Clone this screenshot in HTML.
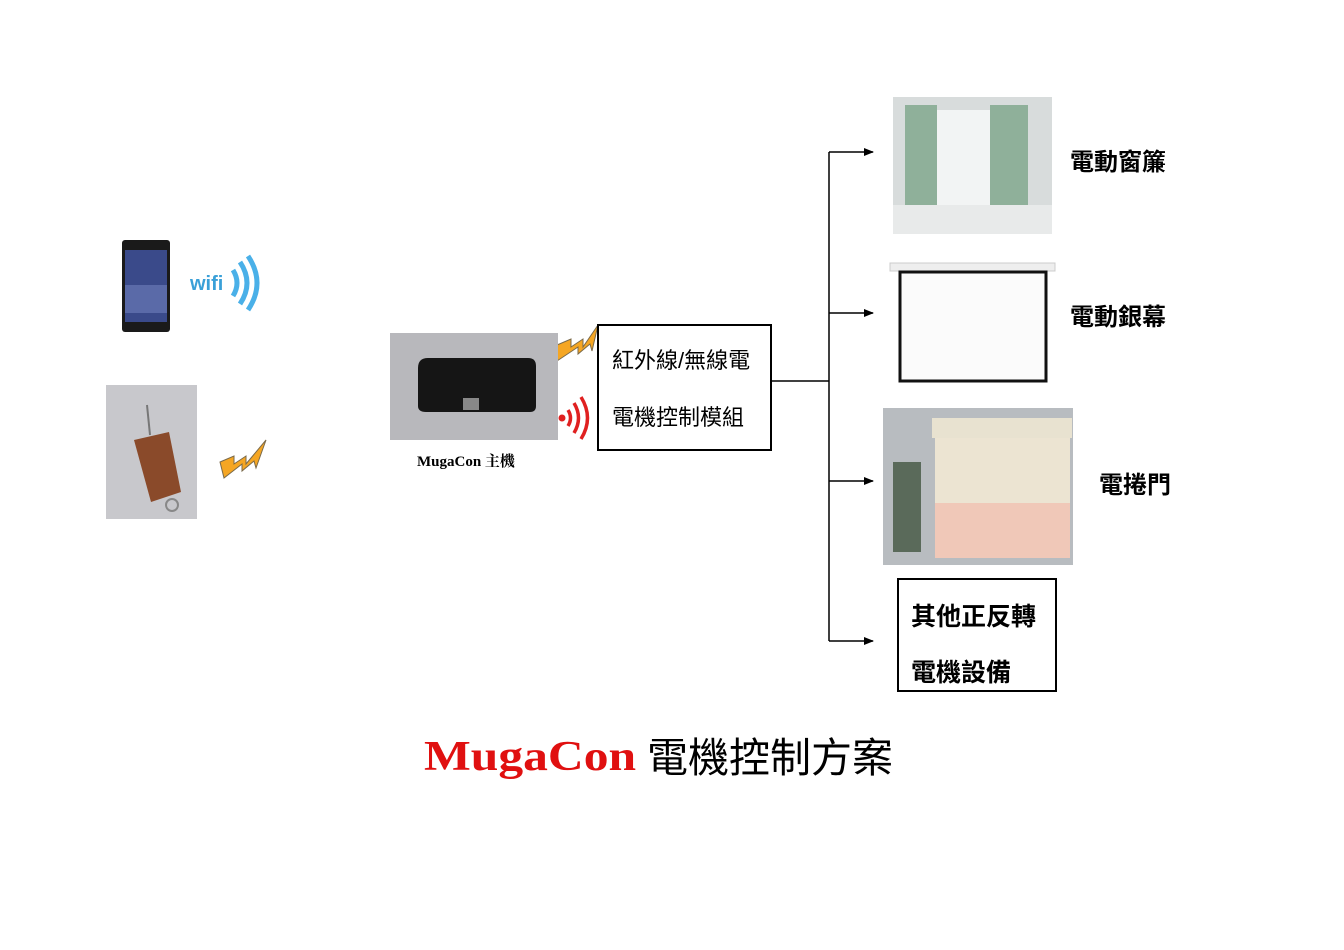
<!DOCTYPE html>
<html><head><meta charset="utf-8"><style>
body{margin:0;width:1344px;height:950px;background:#fff;position:relative;overflow:hidden;font-family:"Liberation Serif","Noto Serif CJK SC",serif}
.t{position:absolute;white-space:nowrap;color:#000}
.b{font-family:"Liberation Sans","Noto Sans CJK TC",sans-serif;font-weight:bold;font-size:24px}
.m{font-family:"Liberation Sans","Noto Sans CJK TC",sans-serif;font-size:22px}
</style></head><body>
<svg width="1344" height="950" style="position:absolute;left:0;top:0">
<defs><marker id="a" markerWidth="10" markerHeight="8" refX="9" refY="4" orient="auto" markerUnits="userSpaceOnUse"><path d="M0,0L10,4L0,8z" fill="#000"/></marker></defs>
<rect x="122" y="240" width="48" height="92" rx="3" fill="#1a1a1a"/>
<rect x="125" y="250" width="42" height="72" fill="#3a4a8a"/>
<rect x="125" y="285" width="42" height="28" fill="#5a6aa8"/>
<text x="190" y="290" font-family="Liberation Sans" font-weight="bold" font-size="20" fill="#3aa0d8">wifi</text>
<path d="M233,270 q8,13 0,26" stroke="#4ab0e8" stroke-width="5" fill="none"/>
<path d="M240,262 q14,21 0,42" stroke="#4ab0e8" stroke-width="5" fill="none"/>
<path d="M248,256 q18,27 0,54" stroke="#4ab0e8" stroke-width="5" fill="none"/>
<rect x="106" y="385" width="91" height="134" fill="#c8c8cc"/>
<path d="M134,440 l35,-8 l12,60 l-30,10z" fill="#8a4a2a"/>
<line x1="150" y1="435" x2="147" y2="405" stroke="#777" stroke-width="2"/>
<circle cx="172" cy="505" r="6" stroke="#888" stroke-width="2" fill="none"/>
<path d="M220,462 l14,-6 l0,8 l12,-8 l0,8 l20,-24 l-10,28 l-2,-7 l-12,10 l0,-7 l-18,14z" fill="#f5a623" stroke="#7a6a4a" stroke-width="1"/>
<path d="M557,345 l14,-6 l0,8 l12,-8 l0,8 l15,-22 l-6,26 l-2,-7 l-12,10 l0,-7 l-21,14z" fill="#f5a623" stroke="#7a6a4a" stroke-width="1"/>
<rect x="390" y="333" width="168" height="107" fill="#b8b8bc"/>
<path d="M428,358 h100 q8,0 8,8 v40 q0,6 -6,6 h-104 q-8,0 -8,-6 v-38 q0,-10 10,-10z" fill="#151515"/>
<rect x="463" y="398" width="16" height="12" fill="#888"/>
<circle cx="562" cy="418" r="3.5" fill="#e02020"/>
<path d="M568,410 q5,8 0,16" stroke="#e02020" stroke-width="3.5" fill="none"/>
<path d="M574,403 q9,15 0,30" stroke="#e02020" stroke-width="3.5" fill="none"/>
<path d="M581,397 q13,21 0,42" stroke="#e02020" stroke-width="3.5" fill="none"/>
<rect x="598" y="325" width="173" height="125" fill="#fff" stroke="#000" stroke-width="2"/>
<line x1="771" y1="381" x2="829" y2="381" stroke="#000" stroke-width="1.5"/>
<line x1="829" y1="152" x2="829" y2="641" stroke="#000" stroke-width="1.5"/>
<line x1="829" y1="152" x2="873" y2="152" stroke="#000" stroke-width="1.5" marker-end="url(#a)"/>
<line x1="829" y1="313" x2="873" y2="313" stroke="#000" stroke-width="1.5" marker-end="url(#a)"/>
<line x1="829" y1="481" x2="873" y2="481" stroke="#000" stroke-width="1.5" marker-end="url(#a)"/>
<line x1="829" y1="641" x2="873" y2="641" stroke="#000" stroke-width="1.5" marker-end="url(#a)"/>
<rect x="893" y="97" width="159" height="137" fill="#d8dcdc"/>
<rect x="935" y="110" width="75" height="110" fill="#f2f4f4"/>
<rect x="905" y="105" width="32" height="125" fill="#8fb09a"/>
<rect x="990" y="105" width="38" height="125" fill="#8fb09a"/>
<rect x="893" y="205" width="159" height="29" fill="#e8eaea"/>
<rect x="890" y="263" width="165" height="8" fill="#eee" stroke="#ccc"/>
<rect x="900" y="272" width="146" height="109" fill="#fbfbfb" stroke="#111" stroke-width="3"/>
<rect x="883" y="408" width="190" height="157" fill="#b8bcc0"/>
<rect x="932" y="418" width="140" height="20" fill="#e8e2d0"/>
<rect x="935" y="438" width="135" height="65" fill="#ece4d2"/>
<rect x="935" y="503" width="135" height="55" fill="#f0c8b8"/>
<rect x="893" y="462" width="28" height="90" fill="#5a6a5a"/>
<rect x="898" y="579" width="158" height="112" fill="#fff" stroke="#000" stroke-width="2"/>
</svg>
<div class="t" style="left:417px;top:450px;font-size:15px;font-weight:bold">MugaCon 主機</div>
<div class="t m" style="left:612px;top:343px">紅外線/無線電</div>
<div class="t m" style="left:612px;top:400px">電機控制模組</div>
<div class="t b" style="left:1070px;top:142px">電動窗簾</div>
<div class="t b" style="left:1070px;top:297px">電動銀幕</div>
<div class="t b" style="left:1099px;top:465px">電捲門</div>
<div class="t b" style="left:911px;top:597px;font-size:25px">其他正反轉</div>
<div class="t b" style="left:911px;top:653px;font-size:25px">電機設備</div>
<div class="t" style="left:424px;top:733px;font-size:42px;font-weight:bold;color:#e01010;font-family:'Liberation Serif',serif;transform:scaleX(1.18);transform-origin:left top">MugaCon</div>
<div class="t" style="left:647px;top:724px;font-size:41px;font-family:'Liberation Sans','Noto Sans CJK TC',sans-serif">電機控制方案</div>
</body></html>
